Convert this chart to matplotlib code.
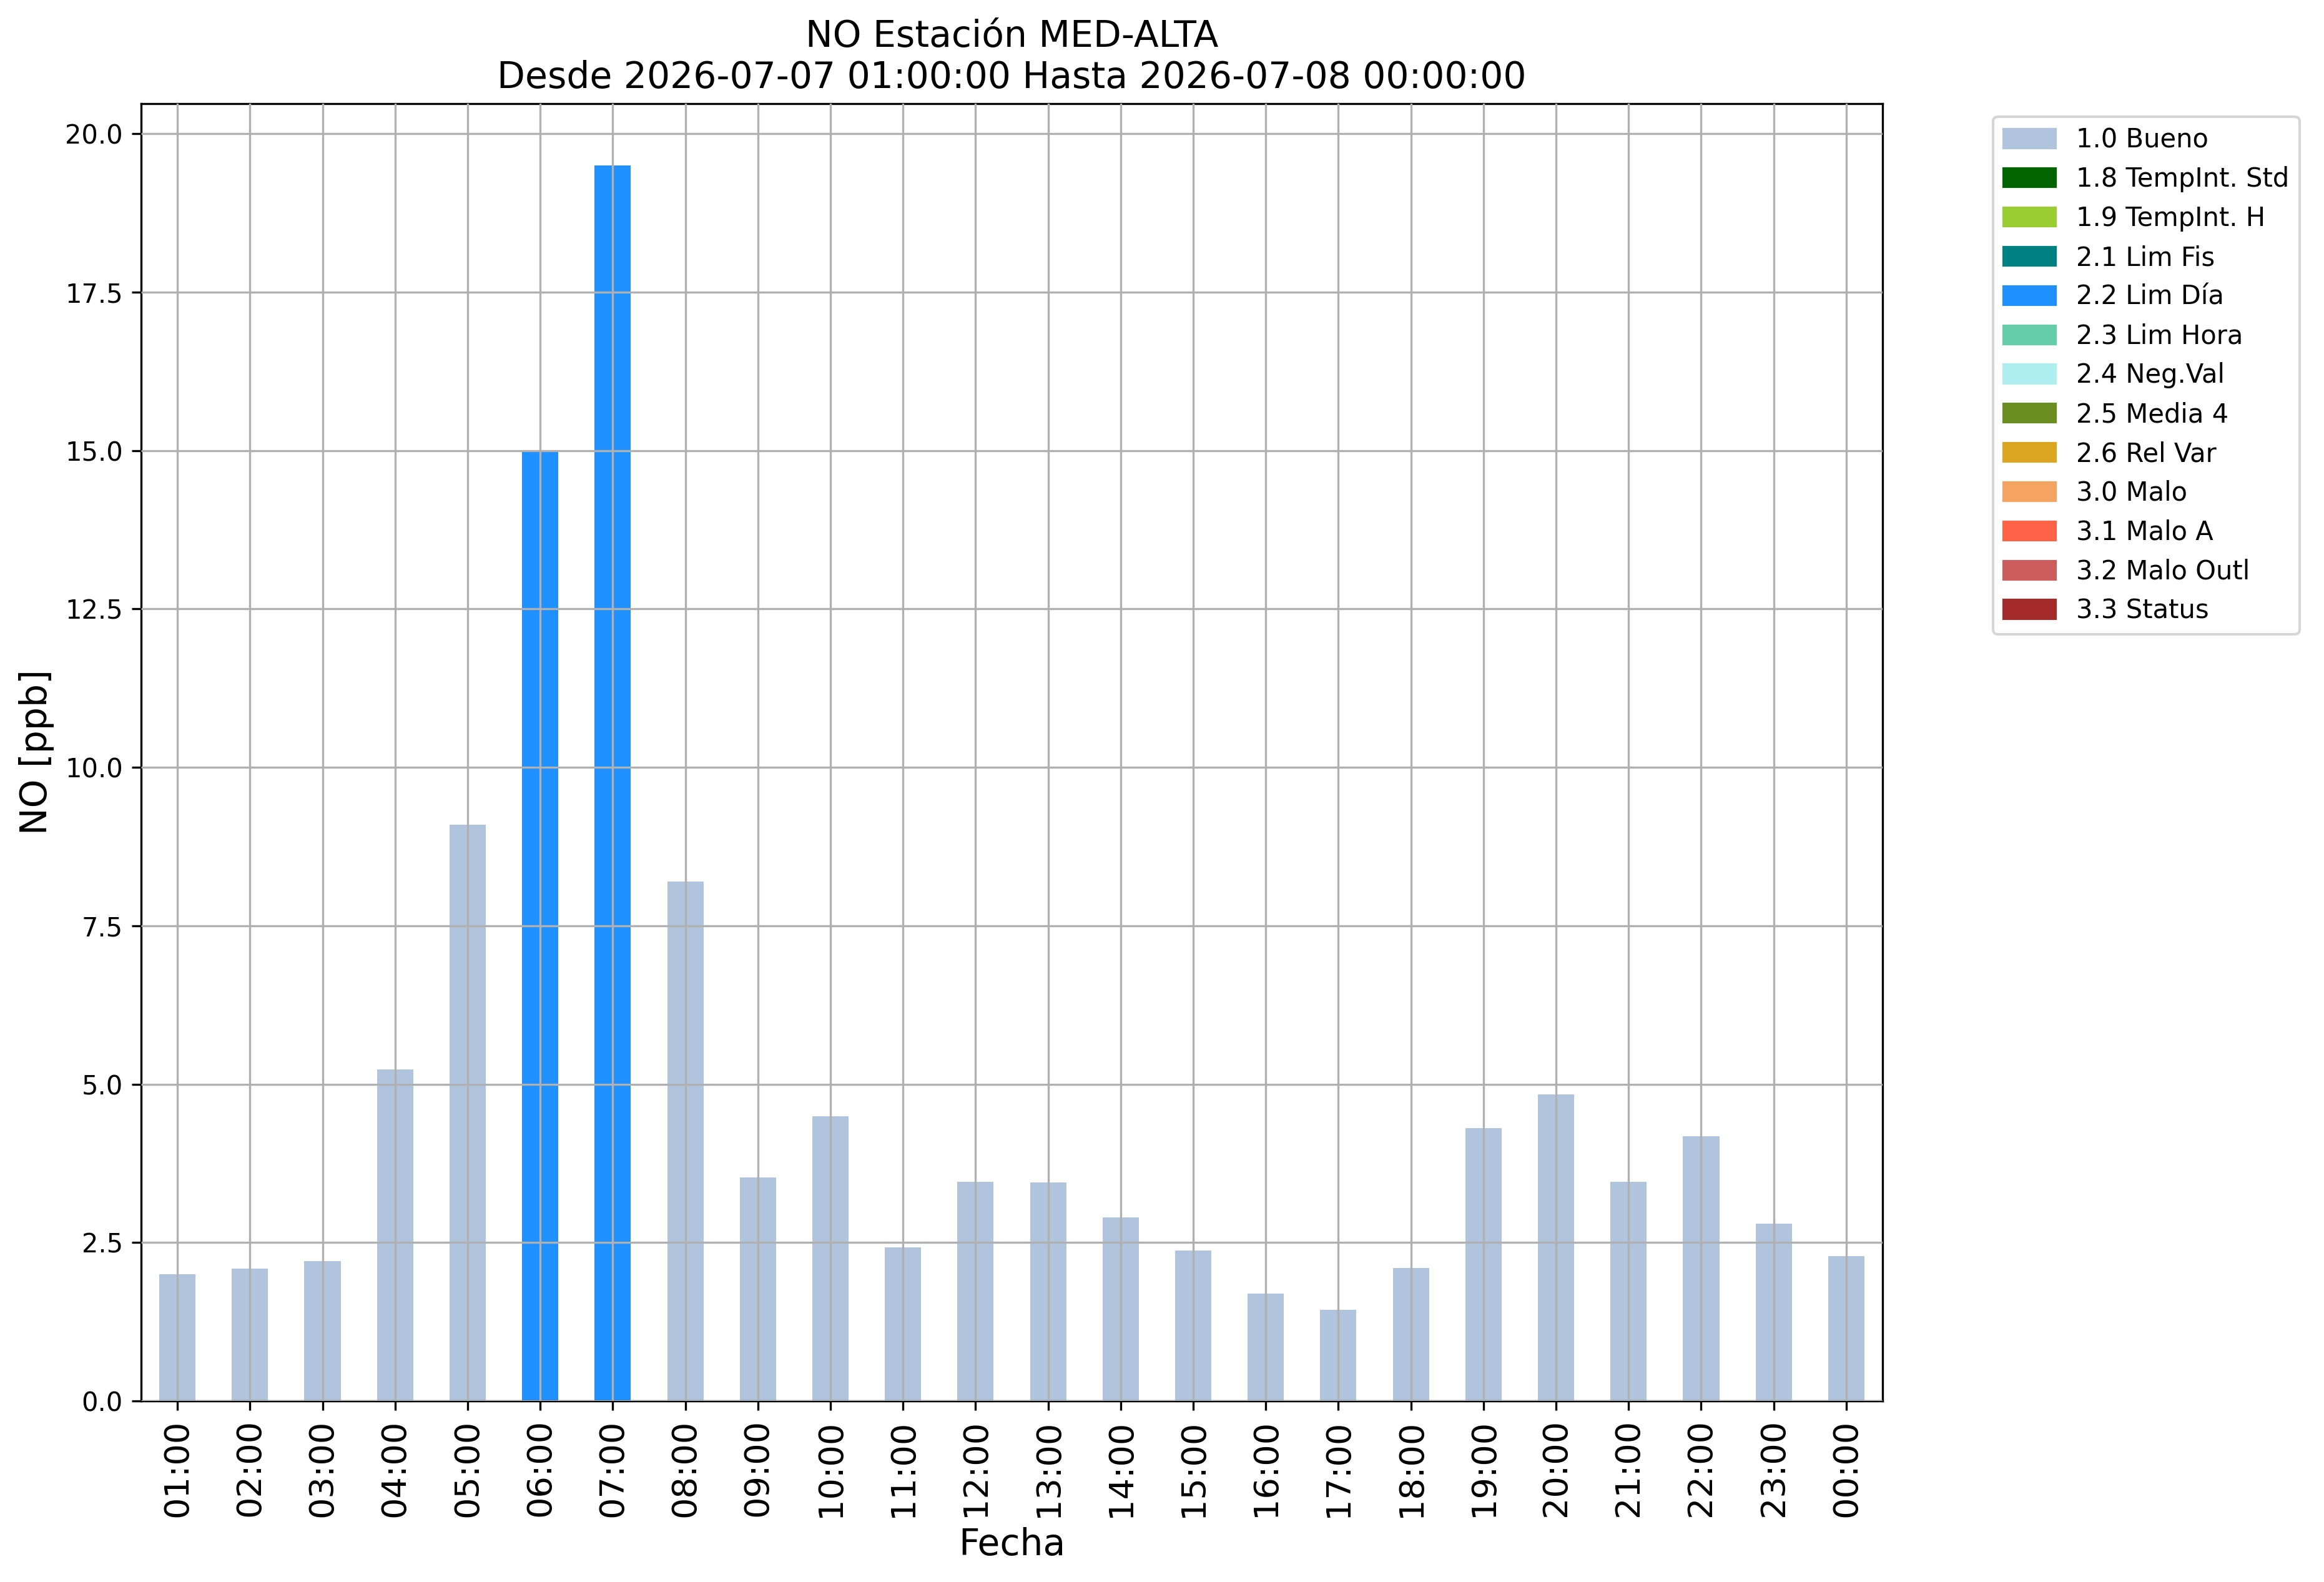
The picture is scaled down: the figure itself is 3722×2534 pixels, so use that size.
import numpy as np
import matplotlib
matplotlib.use('Agg')
import matplotlib.pyplot as plt
from matplotlib.patches import Patch

#%% Data
horas = ['01:00', '02:00', '03:00', '04:00', '05:00', '06:00', '07:00', '08:00',
         '09:00', '10:00', '11:00', '12:00', '13:00', '14:00', '15:00', '16:00',
         '17:00', '18:00', '19:00', '20:00', '21:00', '22:00', '23:00', '00:00']
no_ppb = [2.0, 2.09, 2.21, 5.23, 9.09, 15.0, 19.5, 8.2, 3.53, 4.49, 2.42, 3.46,
          3.45, 2.90, 2.37, 1.69, 1.44, 2.10, 4.31, 4.84, 3.46, 4.18, 2.80, 2.29]
flags = ['1.0', '1.0', '1.0', '1.0', '1.0', '2.2', '2.2', '1.0', '1.0', '1.0', '1.0', '1.0',
         '1.0', '1.0', '1.0', '1.0', '1.0', '1.0', '1.0', '1.0', '1.0', '1.0', '1.0', '1.0']

flag_codes = ['1.0', '1.8', '1.9', '2.1', '2.2', '2.3', '2.4', '2.5', '2.6', '3.0', '3.1', '3.2', '3.3']
flag_names = ['Bueno', 'TempInt. Std', 'TempInt. H', 'Lim Fis', 'Lim Día', 'Lim Hora', 'Neg.Val',
              'Media 4', 'Rel Var', 'Malo', 'Malo A', 'Malo Outl', 'Status']
flag_colors = ['lightsteelblue', 'darkgreen', 'yellowgreen', 'teal', 'dodgerblue',
               'mediumaquamarine', 'paleturquoise', 'olivedrab', 'goldenrod',
               'sandybrown', 'tomato', 'indianred', 'brown']

color_map = dict(zip(flag_codes, flag_colors))

#%% Plot
fig = plt.figure(figsize=(3722/300, 2534/300), dpi=300)
ax = fig.add_axes([226/3722, 1 - 2244/2534, (3015-226)/3722, (2244-166)/2534])

xx = np.arange(len(horas))
ax.bar(xx, no_ppb, width=0.5, color=[color_map[f] for f in flags], zorder=1)
ax.set_xlim(-0.5, len(horas) - 0.5)
ax.set_xticks(xx)
ax.set_xticklabels(horas, rotation=90, fontsize=13)
ax.tick_params(axis='y', labelsize=10)
ax.grid(True, zorder=2)
ax.set_axisbelow(False)

ax.set_xlabel('Fecha', fontsize=14)
ax.set_ylabel('NO [ppb]', fontsize=14)
ax.set_title('NO Estación MED-ALTA\nDesde 2026-07-07 01:00:00 Hasta 2026-07-08 00:00:00', fontsize=14)

# legend with every flag code, used or not
handles = [Patch(color=c, label=k + ' ' + n) for k, n, c in zip(flag_codes, flag_names, flag_colors)]
ax.legend(handles=handles, bbox_to_anchor=(1.056, 1), loc='upper left', fontsize=10)

fig.savefig('out.png', dpi=300)
